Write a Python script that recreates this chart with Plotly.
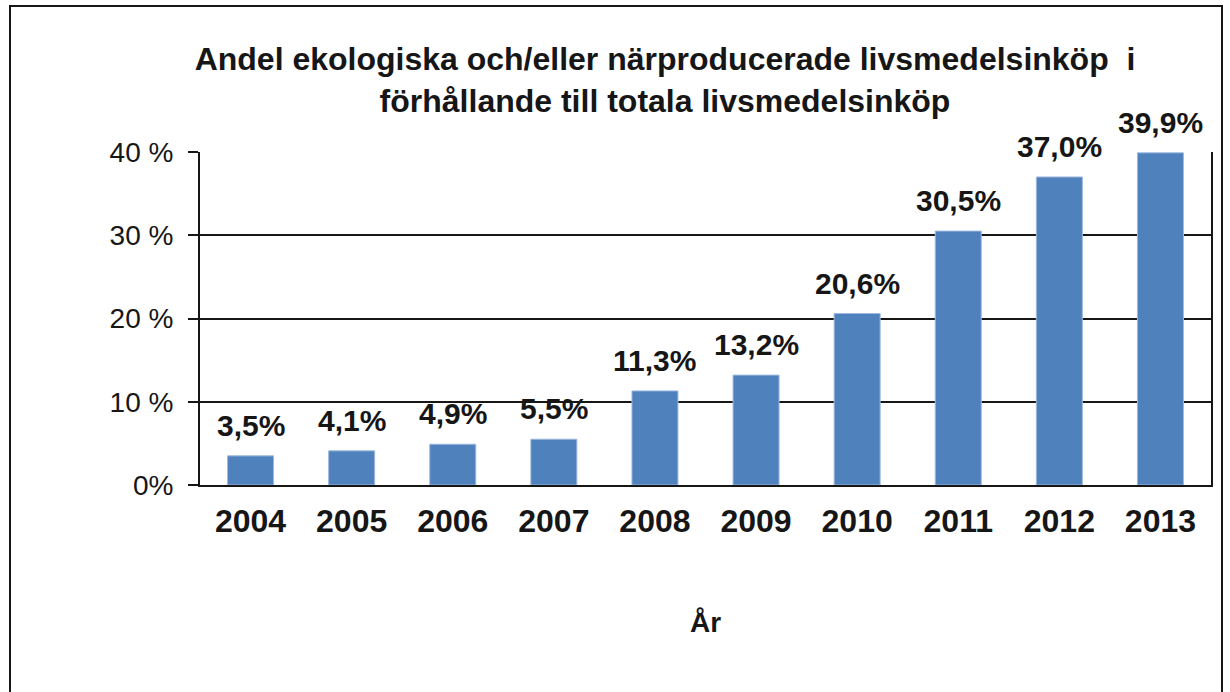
import plotly.graph_objects as go

years = ["2004", "2005", "2006", "2007", "2008", "2009", "2010", "2011", "2012", "2013"]
values = [3.5, 4.1, 4.9, 5.5, 11.3, 13.2, 20.6, 30.5, 37.0, 39.9]
y_tickvals = [0, 10, 20, 30, 40]
y_ticktext = ["0%", "10 %", "20 %", "30 %", "40 %"]
title_text = "Andel ekologiska och/eller närproducerade livsmedelsinköp  i<br>förhållande till totala livsmedelsinköp"
x_title = "År"

labels = [f"{v:.1f}".replace(".", ",") + "%" for v in values]
INK = "#161616"

fig = go.Figure(go.Bar(
    x=years, y=values,
    marker=dict(color="#4F81BD", line=dict(color="#9DB9DF", width=1)),
    hoverinfo="x+y",
))

# on a category axis, numeric x positions are category indices
annotations = [
    dict(x=i, y=v, text=lab, xref="x", yref="y", showarrow=False,
         yanchor="bottom", yshift=12,
         font=dict(family="Liberation Sans", size=30, color=INK, weight="bold"))
    for i, (v, lab) in enumerate(zip(values, labels))
]

fig.update_layout(
    width=1230, height=692,
    margin=dict(l=200, r=19, t=152, b=207),
    paper_bgcolor="white", plot_bgcolor="white",
    bargap=0.545,
    showlegend=False,
    title=dict(text=title_text, x=665/1230, xanchor="center", y=1-70/692, yanchor="middle",
               xref="container", yref="container",
               font=dict(family="Liberation Sans", size=32, color=INK, weight="bold")),
    font=dict(family="Liberation Sans", color=INK),
    xaxis=dict(type="category", range=[-0.5, len(years) - 0.5],
               showline=True, linecolor=INK, linewidth=2, ticks="",
               tickfont=dict(size=32, weight="bold", color=INK),
               ticklabelstandoff=7,
               title=dict(text=x_title, standoff=74, font=dict(size=28, weight="bold", color=INK))),
    yaxis=dict(range=[0, 40], tickvals=y_tickvals, ticktext=y_ticktext,
               showline=True, mirror=True, linecolor=INK, linewidth=2,
               showgrid=True, gridcolor=INK, gridwidth=2,
               ticks="outside", ticklen=10, tickwidth=2, tickcolor=INK,
               ticklabelstandoff=9,
               tickfont=dict(size=28, color=INK), zeroline=False),
    annotations=annotations,
    shapes=[dict(type="rect", xref="paper", yref="paper",
                 x0=(10-200)/1011, x1=(1222-200)/1011,
                 y0=(485-720)/333, y1=(485-6)/333,
                 line=dict(color=INK, width=2), fillcolor="rgba(0,0,0,0)", layer="below")],
)

fig.write_html("out.html", config={"displayModeBar": False},
               post_script="document.body.style.margin='0';document.body.style.overflow='hidden';")
